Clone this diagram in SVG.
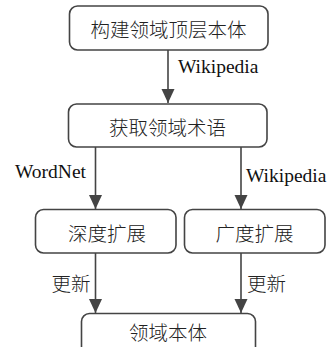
<svg xmlns="http://www.w3.org/2000/svg" width="329" height="347" viewBox="0 0 329 347">
<style>
.box{fill:#fff;stroke:#444;stroke-width:1.6}
.cn{font-family:"Noto Sans CJK SC","Noto Sans",sans-serif;font-size:19.5px;font-weight:300;fill:#222;text-anchor:middle;dominant-baseline:central}
.en{font-family:"Liberation Serif",serif;font-size:19.5px;fill:#111}
.edge{stroke:#444;stroke-width:1.6;fill:none;marker-end:url(#ah)}
</style>
<defs>
<marker id="ah" markerUnits="userSpaceOnUse" markerWidth="15" markerHeight="14" refX="14" refY="7" orient="auto" viewBox="0 0 15 14">
<path d="M0,0.5 L14,7 L0,13.5 Z" fill="#444"/>
</marker>
</defs>
<rect width="329" height="347" fill="#fff"/>
<g id="connectors">
<line class="edge" x1="168" y1="50" x2="168" y2="103"/>
<line class="edge" x1="95.5" y1="147" x2="95.5" y2="209"/>
<line class="edge" x1="241" y1="147" x2="241" y2="209"/>
<line class="edge" x1="95.5" y1="253" x2="95.5" y2="313"/>
<line class="edge" x1="241" y1="253" x2="241" y2="313"/>
<text class="en" x="178" y="73">Wikipedia</text>
<text class="en" x="15" y="178">WordNet</text>
<text class="en" x="246" y="182">Wikipedia</text>
<text class="cn" x="71" y="282">更新</text>
<text class="cn" x="266.5" y="282">更新</text>
</g>
<g id="n1">
<rect class="box" x="69.5" y="6" width="198.5" height="44" rx="8"/>
<text class="cn" x="168.5" y="28.5">构建领域顶层本体</text>
</g>
<g id="n2">
<rect class="box" x="68.5" y="104" width="198.5" height="43" rx="8"/>
<text class="cn" x="167.5" y="126.5">获取领域术语</text>
</g>
<g id="n3">
<rect class="box" x="35.5" y="209.5" width="140.5" height="43.5" rx="8"/>
<text class="cn" x="107" y="232.5">深度扩展</text>
</g>
<g id="n4">
<rect class="box" x="184.5" y="209.5" width="140.5" height="43.5" rx="8"/>
<text class="cn" x="254.5" y="232.5">广度扩展</text>
</g>
<g id="n5">
<rect class="box" x="81.5" y="313.5" width="174" height="44" rx="8"/>
<text class="cn" x="168" y="331">领域本体</text>
</g>
</svg>
